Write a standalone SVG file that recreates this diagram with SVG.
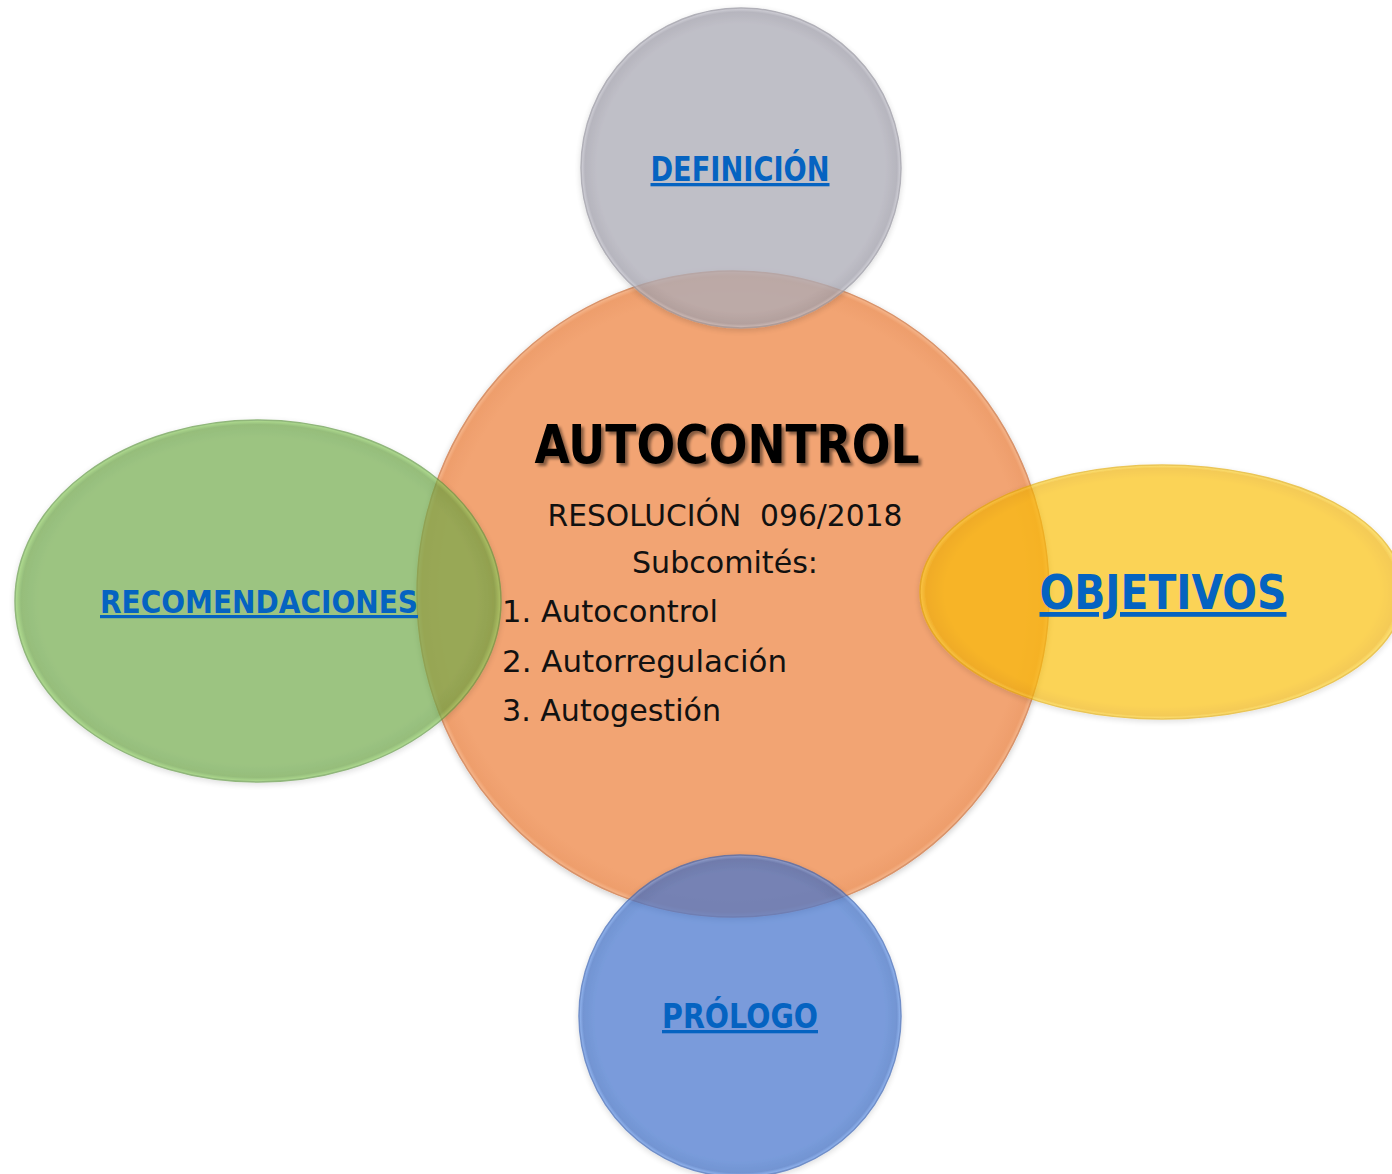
<svg xmlns="http://www.w3.org/2000/svg" width="1392" height="1174" viewBox="0 0 1392 1174">
<style>
.body{font-family:"DejaVu Sans","Liberation Sans",sans-serif;font-size:31px;fill:#111;}
.title{font-family:"DejaVu Sans","Liberation Sans",sans-serif;font-weight:bold;font-size:54px;fill:#000;}
.lbl{font-family:"DejaVu Sans","Liberation Sans",sans-serif;font-weight:bold;fill:#0563C1;text-decoration:underline;}
</style>
<defs>
<filter id="soft" x="-10%" y="-10%" width="120%" height="120%">
<feGaussianBlur in="SourceAlpha" stdDeviation="3" result="b"/>
<feOffset dx="0" dy="2" result="o"/>
<feComponentTransfer in="o" result="s"><feFuncA type="linear" slope="0.2"/></feComponentTransfer>
<feMerge><feMergeNode in="s"/><feMergeNode in="SourceGraphic"/></feMerge>
</filter>
<filter id="tshadow" x="-5%" y="-20%" width="110%" height="140%">
<feGaussianBlur in="SourceAlpha" stdDeviation="1.5" result="b"/>
<feOffset dx="3" dy="3" result="o"/>
<feComponentTransfer in="o" result="s"><feFuncA type="linear" slope="0.45"/></feComponentTransfer>
<feMerge><feMergeNode in="s"/><feMergeNode in="SourceGraphic"/></feMerge>
</filter>
<radialGradient id="gOr" cx="50%" cy="50%" r="50%"><stop offset="0.93" stop-color="#F2A473"/><stop offset="0.985" stop-color="#EE9E6C"/><stop offset="1" stop-color="#F6B88E"/></radialGradient>
<radialGradient id="gGr" cx="50%" cy="50%" r="50%"><stop offset="0.9" stop-color="#70AA4A"/><stop offset="0.975" stop-color="#66A040"/><stop offset="1" stop-color="#8FD060"/></radialGradient>
<radialGradient id="gYe" cx="50%" cy="50%" r="50%"><stop offset="0.9" stop-color="#FABD00"/><stop offset="0.975" stop-color="#EFB000"/><stop offset="1" stop-color="#FFD830"/></radialGradient>
<radialGradient id="gGy" cx="50%" cy="50%" r="50%"><stop offset="0.9" stop-color="#ADACB7"/><stop offset="0.975" stop-color="#A1A0AB"/><stop offset="1" stop-color="#C6C5CF"/></radialGradient>
<radialGradient id="gBl" cx="50%" cy="50%" r="50%"><stop offset="0.9" stop-color="#4676CE"/><stop offset="0.975" stop-color="#3E6CC2"/><stop offset="1" stop-color="#6FA0F0"/></radialGradient>
</defs>

<g id="connectors"></g>

<g id="node-autocontrol">
<ellipse cx="733" cy="594" rx="316" ry="323" fill="url(#gOr)" stroke="#D9936A" stroke-width="1.5" filter="url(#soft)"/>
</g>

<g id="node-definicion" opacity="0.77">
<circle cx="741" cy="168" r="160" fill="url(#gGy)" stroke="#9A99A3" stroke-width="1.5" filter="url(#soft)"/>
</g>

<g id="node-recomendaciones" opacity="0.685">
<ellipse cx="258" cy="601" rx="243" ry="181" fill="url(#gGr)" stroke="#5E9540" stroke-width="1.5" filter="url(#soft)"/>
</g>

<g id="node-objetivos" opacity="0.66">
<ellipse cx="1162" cy="592" rx="242" ry="127" fill="url(#gYe)" stroke="#E0A800" stroke-width="1.5" filter="url(#soft)"/>
</g>

<g id="node-prologo" opacity="0.72">
<circle cx="740" cy="1016" r="161" fill="url(#gBl)" stroke="#3A64B4" stroke-width="1.5" filter="url(#soft)"/>
</g>

<g id="labels">
<text class="lbl" x="740" y="181" font-size="33" text-anchor="middle" textLength="179" lengthAdjust="spacingAndGlyphs">DEFINICIÓN</text>
<text class="lbl" x="259" y="613" font-size="32" text-anchor="middle" textLength="318" lengthAdjust="spacingAndGlyphs">RECOMENDACIONES</text>
<text class="lbl" x="1163" y="609" font-size="48" text-anchor="middle" textLength="247" lengthAdjust="spacingAndGlyphs">OBJETIVOS</text>
<text class="lbl" x="740" y="1028" font-size="33" text-anchor="middle" textLength="156" lengthAdjust="spacingAndGlyphs">PRÓLOGO</text>
</g>

<g id="center-text">
<text class="title" x="727" y="463" text-anchor="middle" textLength="385" lengthAdjust="spacingAndGlyphs" filter="url(#tshadow)">AUTOCONTROL</text>
<text class="body" x="725" y="526" text-anchor="middle" textLength="355" lengthAdjust="spacingAndGlyphs" xml:space="preserve">RESOLUCIÓN  096/2018</text>
<text class="body" x="725" y="573" text-anchor="middle" textLength="186" lengthAdjust="spacingAndGlyphs">Subcomités:</text>
<text class="body" x="502" y="622" textLength="216" lengthAdjust="spacingAndGlyphs">1. Autocontrol</text>
<text class="body" x="502" y="672" textLength="285" lengthAdjust="spacingAndGlyphs">2. Autorregulación</text>
<text class="body" x="502" y="721" textLength="219" lengthAdjust="spacingAndGlyphs">3. Autogestión</text>
</g>
</svg>
